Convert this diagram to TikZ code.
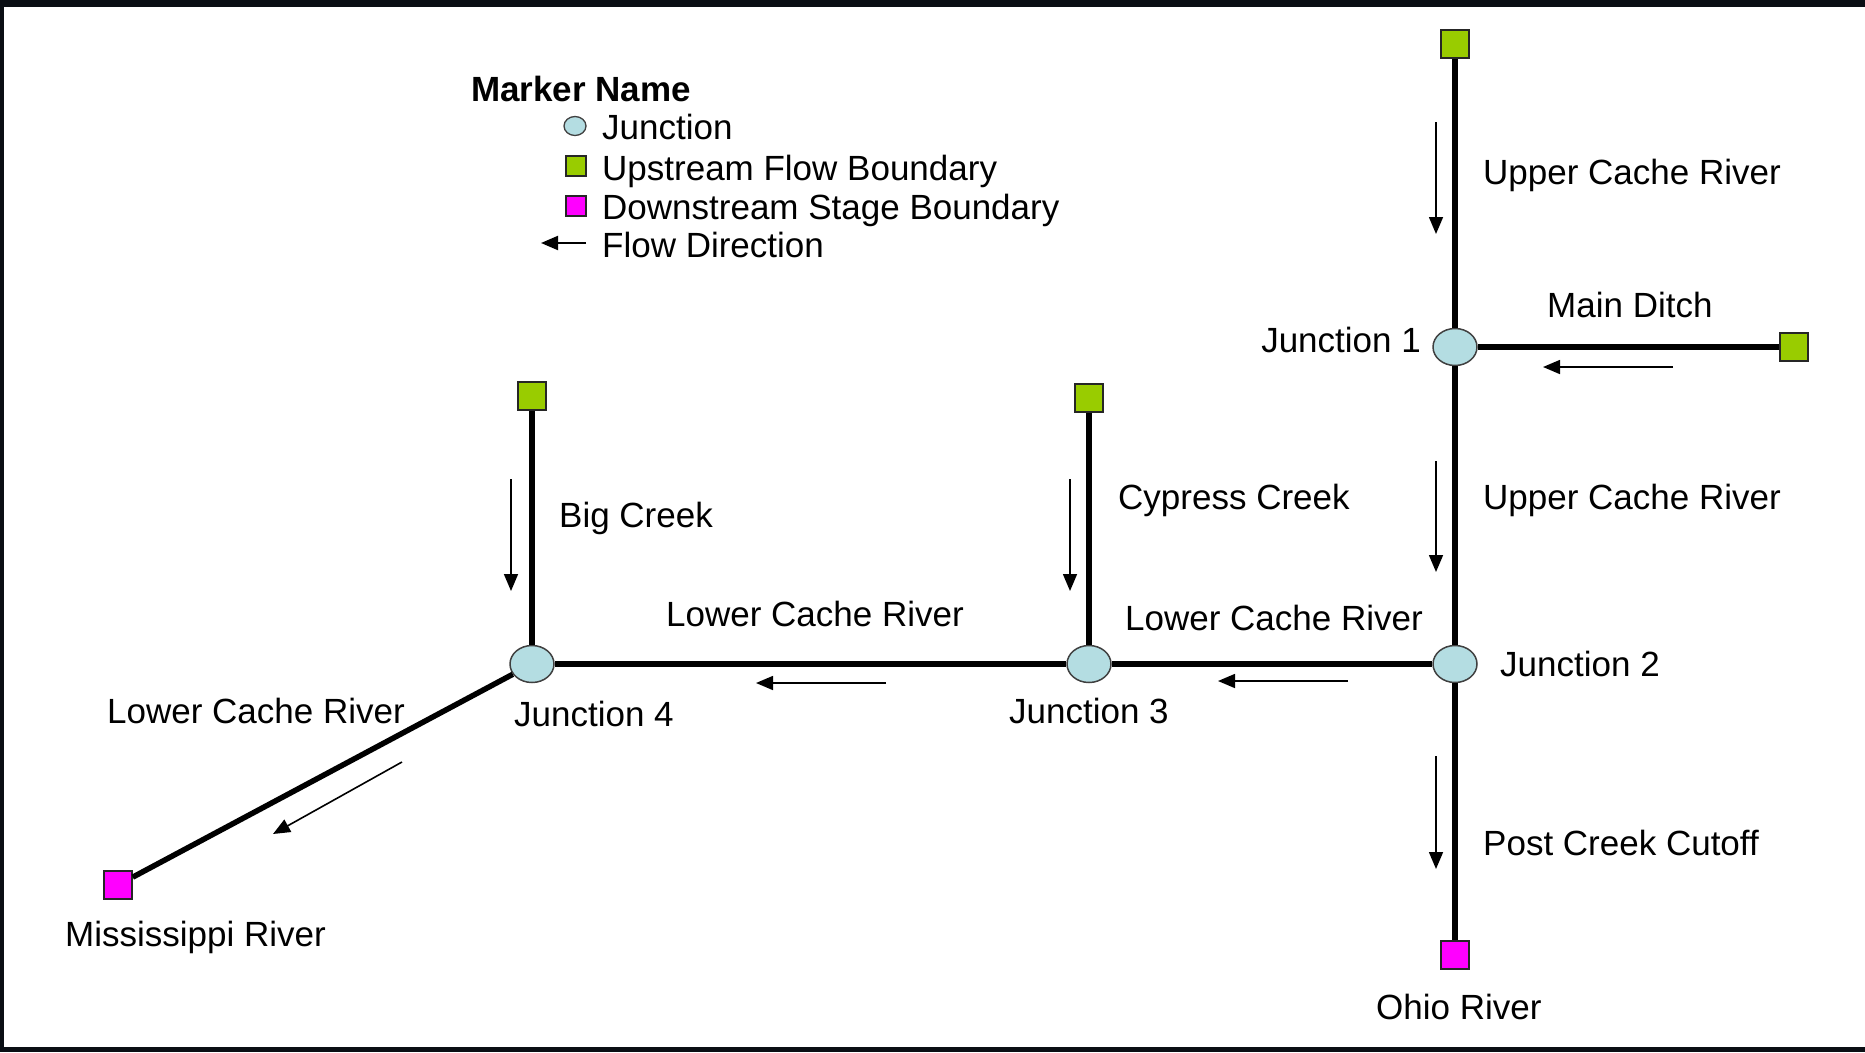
\documentclass[tikz,border=0pt]{standalone}
\usepackage{fontspec}
\setmainfont{Liberation Sans}
\usetikzlibrary{arrows.meta,shapes.geometric}
\definecolor{juncfill}{RGB}{180,221,226}
\definecolor{upgreen}{RGB}{153,204,0}
\definecolor{downmag}{RGB}{255,0,255}
\definecolor{framedark}{RGB}{10,14,20}

\begin{document}
\begin{tikzpicture}[x=1pt,y=-1pt,
  junction/.style={ellipse, draw=black!75, line width=1.5pt, fill=juncfill,
    minimum width=44pt, minimum height=37pt, inner sep=0pt},
  upbnd/.style={rectangle, draw=black!85, line width=1.5pt, fill=upgreen,
    minimum size=28pt, inner sep=0pt},
  downbnd/.style={rectangle, draw=black!85, line width=1.5pt, fill=downmag,
    minimum size=28pt, inner sep=0pt},
  reach/.style={line width=5.5pt},
  flow/.style={line width=1.6pt, -{Triangle[width=14pt,length=17pt]}},
  lbl/.style={font=\fontsize{35}{42}\selectfont, inner sep=0pt, anchor=base west},
  lblr/.style={lbl, anchor=base east},
]
% frame and page
\fill[framedark] (0,0) rectangle (1865,1052);
\fill[white] (4,7) rectangle (1865,1047);
\useasboundingbox (0,0) rectangle (1865,1052);

% legend
\node[lbl, font=\fontsize{35}{42}\selectfont\bfseries] (legtitle) at (471,101) {Marker Name};
\node[junction, minimum width=22pt, minimum height=19pt, line width=1.3pt] (legj) at (575,126) {};
\node[upbnd, minimum size=20pt, line width=1.3pt] (legu) at (576,166) {};
\node[downbnd, minimum size=20pt, line width=1.3pt] (legd) at (576,206) {};
\coordinate (legfa) at (586,243);
\coordinate (legfb) at (541,243);
\draw[line width=2pt, -{Triangle[width=14pt,length=17pt]}] (legfa) -- (legfb);
\node[lbl] (legjt) at (602,139) {Junction};
\node[lbl] (legut) at (602,180) {Upstream Flow Boundary};
\node[lbl] (legdt) at (602,219) {Downstream Stage Boundary};
\node[lbl] (legft) at (602,257) {Flow Direction};

% boundaries and junctions
\node[upbnd] (ucr) at (1455,44) {};
\node[junction] (j1) at (1455,347) {};
\node[upbnd] (md) at (1794,347) {};
\node[junction] (j2) at (1455,664) {};
\node[downbnd] (ohio) at (1455,955) {};
\node[junction] (j3) at (1089,664) {};
\node[upbnd] (cyp) at (1089,398) {};
\node[junction] (j4) at (532,664) {};
\node[upbnd] (big) at (532,396) {};
\node[downbnd] (miss) at (118,885) {};

% river reaches
\draw[reach] (ucr) -- (j1);
\draw[reach] (md) -- (j1);
\draw[reach] (j1) -- (j2);
\draw[reach] (j2) -- (ohio);
\draw[reach] (j2) -- (j3);
\draw[reach] (cyp) -- (j3);
\draw[reach] (j3) -- (j4);
\draw[reach] (big) -- (j4);
\draw[reach] (j4) -- (miss);

% flow directions
\draw[flow] (1436,122) -- (1436,234);
\draw[flow] (1673,367) -- (1543,367);
\draw[flow] (1436,461) -- (1436,572);
\draw[flow] (1436,756) -- (1436,869);
\draw[flow] (1348,681) -- (1218,681);
\draw[flow] (886,683) -- (756,683);
\draw[flow] (1070,479) -- (1070,591);
\draw[flow] (511,479) -- (511,591);
\draw[flow] (402,762) -- (273,834);

% reach and node labels
\node[lbl] (t1) at (1483,184) {Upper Cache River};
\node[lbl] (t2) at (1547,317) {Main Ditch};
\node[lblr] (t3) at (1421,352) {Junction 1};
\node[lbl] (t4) at (1483,509) {Upper Cache River};
\node[lbl] (t5) at (1118,509) {Cypress Creek};
\node[lbl] (t6) at (559,527) {Big Creek};
\node[lbl] (t7) at (666,626) {Lower Cache River};
\node[lbl] (t8) at (1125,630) {Lower Cache River};
\node[lbl] (t9) at (1500,676) {Junction 2};
\node[lbl] (t10) at (1009,723) {Junction 3};
\node[lbl] (t11) at (514,726) {Junction 4};
\node[lbl] (t12) at (107,723) {Lower Cache River};
\node[lbl] (t13) at (1483,855) {Post Creek Cutoff};
\node[lbl] (t14) at (65,946) {Mississippi River};
\node[lbl] (t15) at (1376,1019) {Ohio River};
\end{tikzpicture}
\end{document}
